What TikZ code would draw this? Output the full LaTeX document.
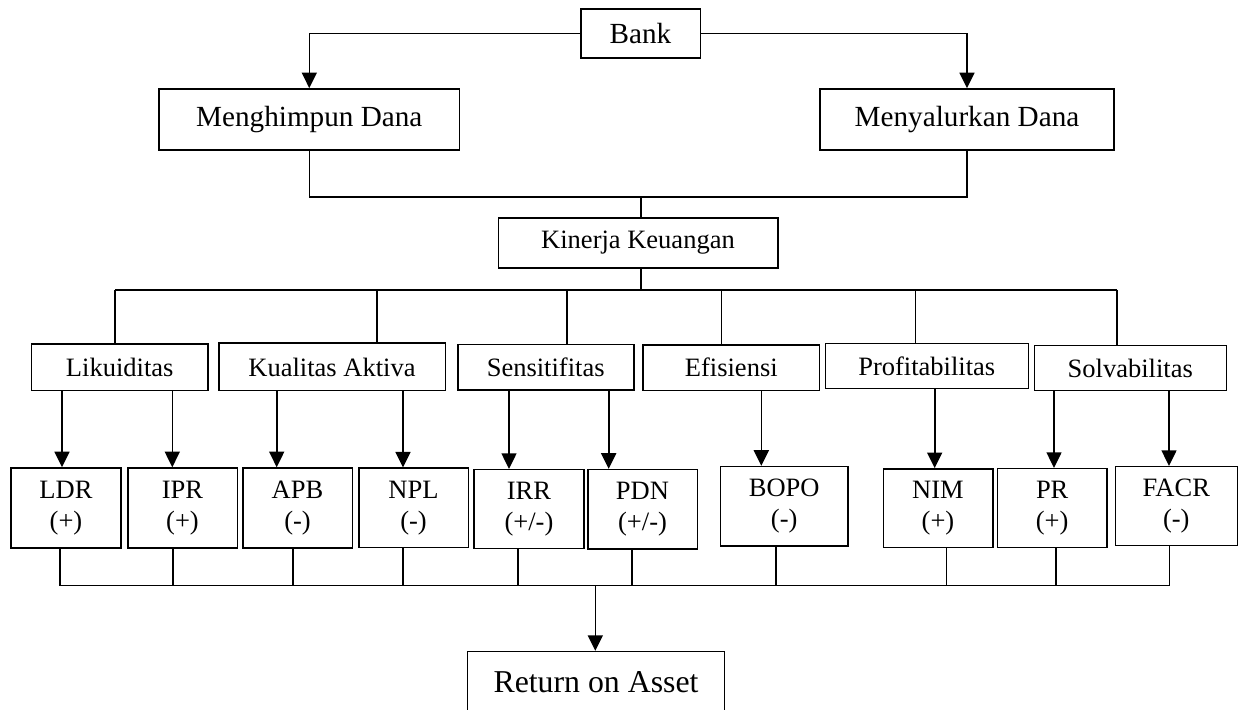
\documentclass[tikz,border=0pt]{standalone}
\usepackage{fontspec}
\setmainfont{Liberation Serif}
\usetikzlibrary{calc}
\usetikzlibrary{arrows.meta}
\tikzset{>={Triangle[length=7.8pt,width=7.5pt]}}
\tikzset{
  kotak/.style={draw, line width=0.8pt, inner sep=0pt, align=center,
    font=\fontsize{13.25}{15.5}\selectfont},
  ukuran/.style 2 args={minimum width=#1*0.5pt, minimum height=#2*0.5pt},
  besar/.style={font=\fontsize{14.6}{17}\selectfont},
  garis/.style={line width=0.8pt},
}

\begin{document}
\begin{tikzpicture}[x=0.5pt,y=-0.5pt]
  \useasboundingbox (0,0) rectangle (1244,710);

  % Bank and its two functions
  \node[kotak, besar, ukuran={119.6}{48.7}] (bank) at (640.5,33.4) {Bank};
  \node[kotak, besar, ukuran={300.5}{61}] (hdana) at (309.3,119.5) {Menghimpun Dana};
  \node[kotak, besar, ukuran={294}{61}] (sdana) at (967,119.5) {Menyalurkan Dana};
  \node[kotak, ukuran={279.4}{50}] (kinerja) at (638,243) {Kinerja Keuangan};

  % Aspects
  \node[kotak, ukuran={176.7}{46.4}] (lik) at (119.7,367.5) {Likuiditas};
  \node[kotak, ukuran={226.6}{47.4}] (kual) at (332,367) {Kualitas Aktiva};
  \node[kotak, ukuran={176}{45.6}] (sens) at (545.7,367.5) {Sensitifitas};
  \node[kotak, ukuran={176.7}{45.7}] (efi) at (731.3,367.8) {Efisiensi};
  \node[kotak, ukuran={203}{45}] (prof) at (926.8,366.2) {Profitabilitas};
  \node[kotak, ukuran={192}{45}] (solv) at (1130.3,368.2) {Solvabilitas};

  % Ratios
  \node[kotak, ukuran={110}{79.7}] (ldr) at (66,507.9) {LDR\\(+)};
  \node[kotak, ukuran={109.6}{79.7}] (ipr) at (182.5,507.9) {IPR\\(+)};
  \node[kotak, ukuran={109.6}{79.7}] (apb) at (297.5,507.9) {APB\\(-)};
  \node[kotak, ukuran={109.6}{79.4}] (npl) at (413.5,508) {NPL\\(-)};
  \node[kotak, ukuran={110}{79}] (irr) at (529,509.2) {IRR\\(+/-)};
  \node[kotak, ukuran={109.6}{79.3}] (pdn) at (642.5,509.3) {PDN\\(+/-)};
  \node[kotak, ukuran={127.7}{79.3}] (bopo) at (784.2,506.3) {BOPO\\(-)};
  \node[kotak, ukuran={109.4}{78.7}] (nim) at (938,508.3) {NIM\\(+)};
  \node[kotak, ukuran={109.7}{79}] (pr) at (1052.2,508.2) {PR\\(+)};
  \node[kotak, ukuran={122}{79}] (facr) at (1176.3,506.2) {FACR\\(-)};

  \node[kotak, ukuran={257}{60}, font=\fontsize{15.9}{18}\selectfont] (roa) at (596,681.7) {Return on Asset};

  % Bus lines
  \coordinate (bus1) at (641,197.3);
  \coordinate (bus2) at (641,290);
  \coordinate (bus3) at (595.3,585.7);

  \draw[garis,->] (bank) -| (hdana);
  \draw[garis,->] (bank) -| (sdana);
  \draw[garis] (hdana.south) |- (bus1) -| (sdana.south);
  \draw[garis] (bus1) -- (bus1 |- kinerja.north);
  \draw[garis] (bus1 |- kinerja.south) -- (bus2);

  \foreach \n/\x in {lik/115, kual/377, sens/567, efi/721.3, prof/915.3, solv/1117} {
    \coordinate (t-\n) at (\x,290);
    \draw[garis] (t-\n) -- (t-\n |- \n.north);
  }
  \draw[garis] (t-lik) -- (t-solv);

  \foreach \a/\b/\x in {lik/ldr/62, lik/ipr/172.3, kual/apb/276.7, kual/npl/403,
      sens/irr/509, sens/pdn/608.7, efi/bopo/761.3, prof/nim/934.7,
      solv/pr/1054, solv/facr/1169} {
    \coordinate (p) at (\x,0);
    \draw[garis,->] (\a.south -| p) -- (\b.north -| p);
  }

  \foreach \n/\x in {ldr/60, ipr/172.7, apb/293, npl/402.7, irr/518, pdn/631.7,
      bopo/775.7, nim/946.5, pr/1055.7, facr/1169.3} {
    \coordinate (b-\n) at (\x,585.7);
    \draw[garis] (\n.south -| b-\n) -- (b-\n);
  }
  \draw[garis] (b-ldr) -- (b-facr);
  \draw[garis,->] (bus3) -- (bus3 |- roa.north);
\end{tikzpicture}
\end{document}
